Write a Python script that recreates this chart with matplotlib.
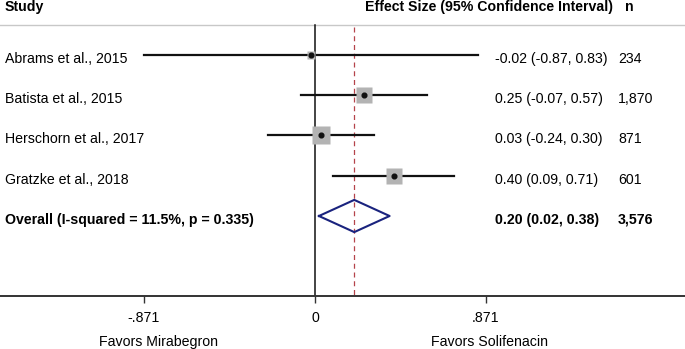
import matplotlib.pyplot as plt
import numpy as np

plt.rcParams["font.family"] = ["Liberation Sans", "DejaVu Sans"]

studies = ["Abrams et al., 2015", "Batista et al., 2015",
           "Herschorn et al., 2017", "Gratzke et al., 2018"]
effect = [-0.02, 0.25, 0.03, 0.40]
ci_low = [-0.87, -0.07, -0.24, 0.09]
ci_high = [0.83, 0.57, 0.30, 0.71]
n = ["234", "1,870", "871", "601"]
weights = [6, 28, 38, 28]  # approximate % weights (square area)

overall_label = "Overall (I-squared = 11.5%, p = 0.335)"
overall_effect = 0.20
overall_low = 0.02
overall_high = 0.38
overall_n = "3,576"

tick_vals = [-0.871, 0, 0.871]
tick_labels = ["-.871", "0", ".871"]

FS = 10.2
W, H = 685, 349
AXIS_Y = 296  # pixel row of the x axis
fig = plt.figure(figsize=(W / 100, H / 100), dpi=100)
ax = fig.add_axes([0, (H - AXIS_Y) / H, 1, AXIS_Y / H])

px = 196.3  # pixels per effect unit
ROW = 40.25  # pixels per row
ax.set_xlim(-315 / px, (W - 315) / px)
y_axis = 1 + (AXIS_Y - 55) / ROW
ax.set_ylim(y_axis, 1 - 55 / ROW)


def xpix(p):
    return (p - 315) / px


def ypix(p):
    return 1 + (p - 55) / ROW


for s in ["top", "left", "right"]:
    ax.spines[s].set_visible(False)
ax.spines["bottom"].set_color("#333333")
ax.spines["bottom"].set_linewidth(1.4)
ax.set_yticks([])
ax.set_xticks(tick_vals)
ax.set_xticklabels(tick_labels, fontsize=FS)
ax.tick_params(axis="x", length=5, width=1.0, color="#333333", pad=6)

top = ypix(25)
# header rule
ax.axhline(top, color="#c8c8c8", lw=1.0)
# null line and overall line
ax.plot([0, 0], [top, y_axis], color="#111111", lw=1.1)
ax.plot([overall_effect, overall_effect], [ypix(27), y_axis],
        color="#b5434a", lw=0.9, dashes=(4, 3))

rows = np.arange(1, len(studies) + 1)
k = 15 * 0.72 * 1.22 / np.sqrt(max(weights))
for y, e, lo, hi, w in zip(rows, effect, ci_low, ci_high, weights):
    ax.plot([lo, hi], [y, y], color="#111111", lw=1.6, zorder=2)
    ax.plot(e, y, marker="s", ms=k * np.sqrt(w), color="#b3b3b3",
            mec="none", zorder=3)
    ax.plot(e, y, marker="o", ms=3.4, color="#111111", zorder=4)

oy = len(studies) + 1
dx = [overall_low, overall_effect, overall_high, overall_effect, overall_low]
dy = [oy, oy - 0.4, oy, oy + 0.4, oy]
ax.plot(dx, dy, color="#1a237e", lw=1.5, zorder=3)

toff = 4 / ROW  # text sits slightly below the row line
hy = ypix(7)
ax.text(xpix(5), hy, "Study", fontsize=FS, fontweight="bold",
        va="center", ha="left")
ax.text(xpix(613), hy, "Effect Size (95% Confidence Interval)",
        fontsize=FS, fontweight="bold", va="center", ha="right")
ax.text(xpix(625), hy, "n", fontsize=FS, fontweight="bold",
        va="center", ha="left")

for y, name, e, lo, hi, nn in zip(rows, studies, effect, ci_low, ci_high, n):
    ax.text(xpix(5), y + toff, name, fontsize=FS, va="center", ha="left")
    ax.text(xpix(495), y + toff, f"{e:.2f} ({lo:.2f}, {hi:.2f})",
            fontsize=FS, va="center", ha="left")
    ax.text(xpix(618), y + toff, nn, fontsize=FS, va="center", ha="left")

ax.text(xpix(5), oy + toff, overall_label, fontsize=FS, fontweight="bold",
        va="center", ha="left")
ax.text(xpix(495), oy + toff,
        f"{overall_effect:.2f} ({overall_low:.2f}, {overall_high:.2f})",
        fontsize=FS, fontweight="bold", va="center", ha="left")
ax.text(xpix(618), oy + toff, overall_n, fontsize=FS, fontweight="bold",
        va="center", ha="left")

# direction labels below the axis
fy = ypix(342)
ax.text(xpix(158), fy, "Favors Mirabegron", fontsize=FS,
        ha="center", va="center", clip_on=False)
ax.text(xpix(489), fy, "Favors Solifenacin", fontsize=FS,
        ha="center", va="center", clip_on=False)

fig.savefig("out.png", dpi=100)
